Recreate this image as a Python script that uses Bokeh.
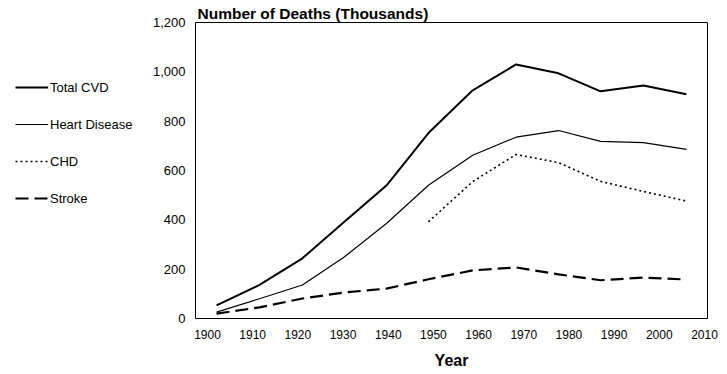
from bokeh.plotting import figure
from bokeh.layouts import row
from bokeh.models import Range1d, FixedTicker, NumeralTickFormatter, Legend, LegendItem
from bokeh.embed import file_html
from bokeh.resources import INLINE

years = [1902.0, 1911.5, 1921.0, 1930.1, 1939.6, 1948.9, 1958.7, 1968.3, 1977.7, 1987.0, 1996.5, 2006.0]
total_cvd = [53, 136, 244, 389, 539, 752, 925, 1030, 994, 921, 945, 909]
heart_disease = [26, 80, 136, 247, 385, 540, 662, 735, 762, 718, 713, 686]
chd_years = [1948.9, 1958.7, 1968.3, 1977.7, 1987.0, 1996.5, 2006.0]
chd = [392, 555, 665, 632, 556, 515, 476]
stroke = [20, 45, 81, 105, 121, 159, 195, 207, 179, 155, 166, 158]

series_names = ["Total CVD", "Heart Disease", "CHD", "Stroke"]
x_ticks = [1900, 1910, 1920, 1930, 1940, 1950, 1960, 1970, 1980, 1990, 2000, 2010]
y_ticks = [0, 200, 400, 600, 800, 1000, 1200]

FONT = "Liberation Sans"
STYLES = [
    dict(line_color="black", line_width=2),
    dict(line_color="black", line_width=1.2),
    dict(line_color="black", line_width=1.6, line_dash="2 3"),
    dict(line_color="black", line_width=2.2, line_dash="13 6"),
]
SERIES = [(years, total_cvd), (years, heart_disease), (chd_years, chd), (years, stroke)]

# ---- main chart ----
p = figure(output_backend="svg", toolbar_location=None,
           x_range=Range1d(1897.34, 2010.67), y_range=Range1d(0, 1200),
           min_border_left=55, min_border_right=20, min_border_top=22, min_border_bottom=56,
           title="Number of Deaths (Thousands)")
p.frame_width = 512
p.frame_height = 296

p.title.text_font = FONT
p.title.text_font_size = "15.5px"
p.title.text_font_style = "bold"
p.title.text_color = "black"
p.title.align = "left"
p.title.offset = 2
p.title.standoff = 1

p.xgrid.visible = False
p.ygrid.visible = False
p.outline_line_color = "black"
p.outline_line_width = 1
p.outline_line_alpha = 1
p.background_fill_color = "white"
p.border_fill_color = "white"

for ax in (p.xaxis[0], p.yaxis[0]):
    ax.axis_line_color = None
    ax.major_tick_line_color = None
    ax.minor_tick_line_color = None
    ax.major_tick_in = 0
    ax.major_tick_out = 0
    ax.major_label_text_font = FONT
    ax.major_label_text_color = "black"

p.xaxis[0].ticker = FixedTicker(ticks=x_ticks)
p.xaxis[0].major_label_text_font_size = "12px"
p.xaxis[0].major_label_standoff = 11
p.xaxis[0].axis_label = "Year"
p.xaxis[0].axis_label_text_font = FONT
p.xaxis[0].axis_label_text_font_size = "16px"
p.xaxis[0].axis_label_text_font_style = "bold"
p.xaxis[0].axis_label_text_color = "black"
p.xaxis[0].axis_label_standoff = 10

p.yaxis[0].ticker = FixedTicker(ticks=y_ticks)
p.yaxis[0].formatter = NumeralTickFormatter(format="0,0")
p.yaxis[0].major_label_text_font_size = "13px"
p.yaxis[0].major_label_standoff = 10

for (xs, ys), st in zip(SERIES, STYLES):
    p.line(xs, ys, **st)

# ---- legend panel (left); its ranges keep the series out of view, only the key shows ----
leg = figure(width=140, height=374, output_backend="svg", toolbar_location=None,
             x_range=Range1d(0, 1), y_range=Range1d(-2, -1),
             x_axis_location=None, y_axis_location=None,
             min_border_left=0, min_border_right=0, min_border_top=0, min_border_bottom=0)
leg.xgrid.visible = False
leg.ygrid.visible = False
leg.outline_line_color = None
leg.background_fill_color = "white"
leg.border_fill_color = "white"

items = []
for name, (xs, ys), st in zip(series_names, SERIES, STYLES):
    r = leg.line(xs, ys, **st)
    items.append(LegendItem(label=name, renderers=[r]))

legend = Legend(items=items, location=(15, 110))
legend.padding = 0
legend.margin = 0
legend.spacing = 17
legend.glyph_width = 33
legend.glyph_height = 20
legend.label_height = 20
legend.label_standoff = 2
legend.label_text_font = FONT
legend.label_text_font_size = "13px"
legend.label_text_color = "black"
legend.background_fill_alpha = 0
legend.border_line_alpha = 0
leg.add_layout(legend, "center")

layout = row(leg, p, spacing=0)
open("out.html", "w").write(file_html(layout, INLINE))
